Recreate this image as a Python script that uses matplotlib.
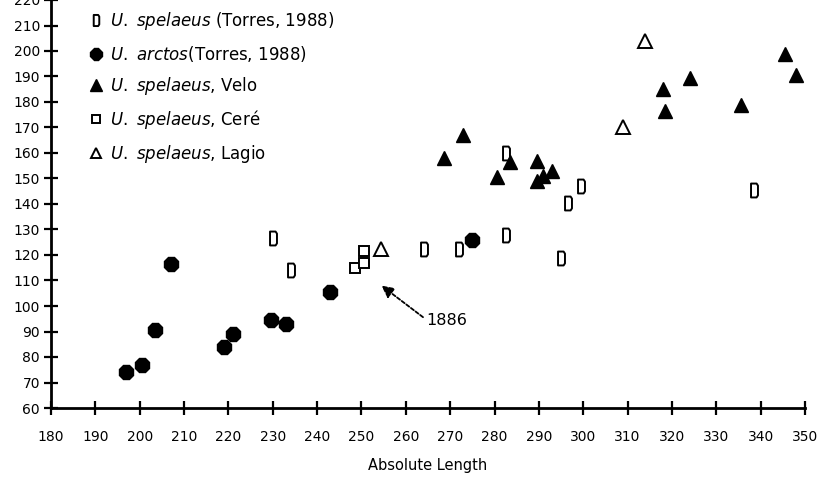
import matplotlib
matplotlib.use("Agg")
import matplotlib.pyplot as plt
from matplotlib.path import Path

# ---- data ----
torres_sp_x = [230, 234, 264, 272, 282.5, 282.5, 295, 296.5, 299.5, 338.5]
torres_sp_y = [126.5, 114, 122.5, 122.5, 128, 160, 119, 140.5, 147, 145.5]

arctos_x = [197, 200.5, 203.5, 207, 219, 221, 229.5, 233, 243, 275]
arctos_y = [74, 77, 90.5, 116.5, 84, 89, 94.5, 93, 105.5, 126]

velo_x = [268.5, 273, 280.5, 283.5, 289.5, 289.5, 291, 293, 318, 318.5, 324, 335.5, 345.5, 348]
velo_y = [158, 167, 150.5, 156.5, 157, 149, 151, 153, 185, 176.5, 189.5, 179, 199, 190.5]

cere_x = [248.5, 250.5, 250.5]
cere_y = [115, 117, 121.5]

lagio_x = [254.5, 309, 314]
lagio_y = [122.5, 170, 204]

x_ticks = list(range(180, 351, 10))
y_ticks = list(range(60, 221, 10))

annot_text = "1886"
annot_point = (254.5, 108)
annot_textpos = (264.5, 94.5)

labels = [r"$\it{U.\ spelaeus}$ (Torres, 1988)",
          r"$\it{U.\ arctos}$(Torres, 1988)",
          r"$\it{U.\ spelaeus}$, Velo",
          r"$\it{U.\ spelaeus}$, Ceré",
          r"$\it{U.\ spelaeus}$, Lagio"]

plt.rcParams['font.family'] = ['DejaVu Sans']

# tall rounded "0/D" shaped marker
d_marker = Path([(-0.5, -1), (0.3, -1), (0.5, -0.7), (0.5, 0.7), (0.3, 1), (-0.5, 1), (-0.5, -1)],
                [Path.MOVETO] + [Path.LINETO] * 5 + [Path.CLOSEPOLY])

fig = plt.figure(figsize=(8.32, 4.82), dpi=100)
ax = fig.add_axes([51 / 832, 1 - 408 / 482, 754 / 832, 408 / 482])

ax.plot(torres_sp_x, torres_sp_y, ls='none', marker=d_marker, ms=10, mfc='white', mec='black', mew=1.4,
        label=labels[0])
ax.plot(arctos_x, arctos_y, ls='none', marker='8', ms=11, mfc='black', mec='black', label=labels[1])
ax.plot(velo_x, velo_y, ls='none', marker='^', ms=10.5, mfc='black', mec='black', label=labels[2])
ax.plot(cere_x, cere_y, ls='none', marker='s', ms=6.5, mfc='white', mec='black', mew=1.4, label=labels[3])
ax.plot(lagio_x, lagio_y, ls='none', marker='^', ms=9.5, mfc='white', mec='black', mew=1.4, label=labels[4])

ax.annotate(annot_text, xy=annot_point, xytext=annot_textpos, fontsize=11.5,
            ha='left', va='center',
            arrowprops=dict(arrowstyle='-|>', color='black', lw=1.3, ls=(0, (2, 1.2)),
                            mutation_scale=18, shrinkA=0, shrinkB=0, relpos=(0.0, 0.55)))

ax.set_xlim(180, 350)
ax.set_ylim(60, 220)
ax.set_xticks(x_ticks)
ax.set_yticks(y_ticks)
ax.set_xticklabels([str(v) for v in x_ticks])
ax.set_yticklabels([str(v) for v in y_ticks])

for s in ['top', 'right']:
    ax.spines[s].set_visible(False)
for s in ['left', 'bottom']:
    ax.spines[s].set_linewidth(2)
    ax.spines[s].set_clip_on(False)

ax.tick_params(axis='both', direction='inout', length=10, width=1.6, labelsize=10, colors='black')
ax.tick_params(axis='y', pad=3)
ax.tick_params(axis='x', pad=11)
ax.set_xlabel("Absolute Length", fontsize=10.5, labelpad=10)

leg = ax.legend(loc='upper left', bbox_to_anchor=(0.05, 0.975), frameon=False, fontsize=12,
                handlelength=0.9, handletextpad=0.4, labelspacing=0.68, borderpad=0, borderaxespad=0,
                markerscale=0.8)

fig.savefig("out.png", dpi=100, facecolor='white')
